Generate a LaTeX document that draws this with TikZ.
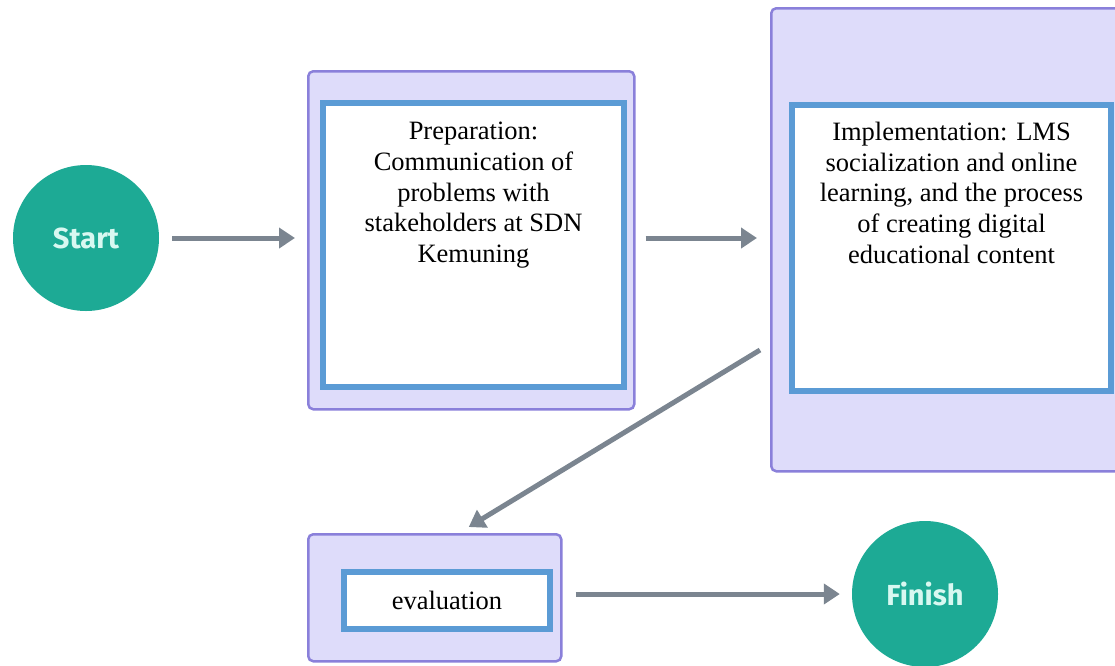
\documentclass[tikz,border=0pt]{standalone}
\usepackage{fontspec}
\setmainfont{Liberation Serif}
\newfontfamily\circfont{Fira Sans}
\usetikzlibrary{arrows.meta,calc}
\definecolor{teal1}{HTML}{1DAA95}
\definecolor{mint}{HTML}{D8F8F1}
\definecolor{outerfill}{HTML}{DEDCFA}
\definecolor{outerline}{HTML}{8A80DA}
\definecolor{innerline}{HTML}{5B9BD5}
\definecolor{arrowgray}{HTML}{7B8590}
\tikzset{
  circ/.style={circle,fill=teal1,minimum size=146pt,inner sep=0pt,
    font=\circfont\bfseries\fontsize{29}{32}\selectfont,text=mint},
  outerbox/.style={draw=outerline,fill=outerfill,line width=2.5pt,rounded corners=5pt,
    inner sep=0pt,anchor=north west},
  innerbox/.style={draw=innerline,fill=white,line width=6pt,inner sep=0pt,anchor=north west},
  boxtext/.style={align=center,inner sep=0pt,font=\fontsize{26.5}{30.7}\selectfont},
  flow/.style={draw=arrowgray,line width=5pt,-{Triangle[length=16pt,width=20pt]}}
}
\begin{document}
\begin{tikzpicture}[x=1pt,y=-1pt]
\useasboundingbox (0,0) rectangle (1115,665);
\clip (0,0) rectangle (1115,665);
% circles
\node[circ] (start) at (86,238) {Start};
\node[circ] (finish) at (925,594) {Finish};
% preparation
\node[outerbox,minimum width=326pt,minimum height=338pt] (prep) at (307,70) {};
\node[innerbox,minimum width=301pt,minimum height=284pt] (prepin) at (320,100) {};
\node[boxtext,anchor=north] (preptext) at ([yshift=-22pt]prepin.north)
  {Preparation:\\Communication of\\problems with\\stakeholders at SDN\\Kemuning};
% implementation
\node[outerbox,minimum width=360pt,minimum height=463pt] (impl) at (770,7) {};
\node[innerbox,minimum width=319pt,minimum height=286pt] (implin) at (789,102) {};
\node[boxtext,anchor=north] (impltext) at ([yshift=-20pt]implin.north)
  {Implementation: LMS\\socialization and online\\learning, and the process\\of creating digital\\educational content};
% evaluation
\node[outerbox,minimum width=253pt,minimum height=127pt] (eval) at (307,533) {};
\node[innerbox,minimum width=206pt,minimum height=57pt] (evalin) at (341,569) {};
\node[boxtext] (evaltext) at (evalin.center) {evaluation};
% connectors
\coordinate (dstart) at (760,350);
\draw[flow,shorten <=13pt,shorten >=12pt] (start.east) -- (prep.west |- start.east);
\draw[flow,shorten <=10pt,shorten >=13pt] (prep.east |- start.east) -- (impl.west |- start.east);
\draw[flow] (dstart) -- ([xshift=34pt,yshift=6pt]eval.north);
\draw[flow,shorten <=13pt,shorten >=12pt] (eval.east |- finish.west) -- (finish.west);
\end{tikzpicture}
\end{document}
